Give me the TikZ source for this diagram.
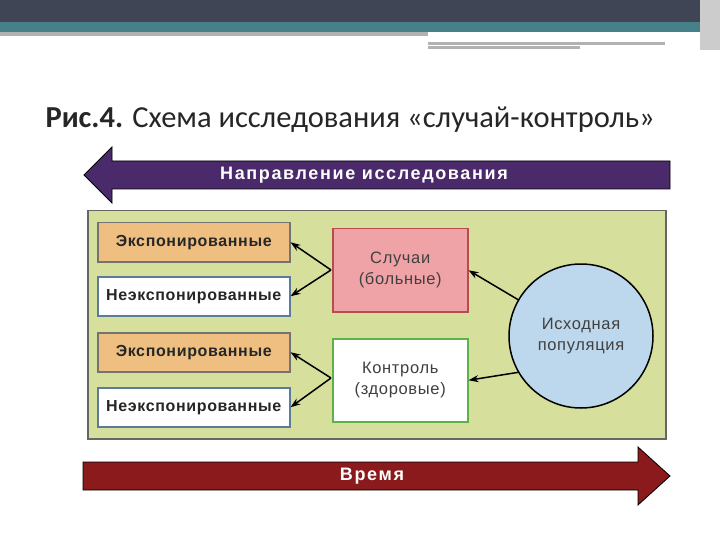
\documentclass[tikz,border=0pt]{standalone}
\usepackage{fontspec}
\setmainfont{Liberation Sans}
\newfontfamily\titlefont{Carlito}
\newfontfamily\widefont[LetterSpace=9]{Liberation Sans}
\newfontfamily\midfont[LetterSpace=4]{Liberation Sans}
\usetikzlibrary{arrows.meta}
\definecolor{topdark}{HTML}{3F4555}
\definecolor{teal}{HTML}{468088}
\definecolor{panel}{HTML}{D6DF9C}
\definecolor{expo}{HTML}{EFBF82}
\definecolor{case}{HTML}{F0A3A6}
\definecolor{circ}{HTML}{BDD7EC}
\definecolor{purp}{HTML}{4A2A6A}
\definecolor{wine}{HTML}{8B1A1C}
\definecolor{blueb}{HTML}{5A7B9A}
\definecolor{greenb}{HTML}{5EB048}
\begin{document}
\begin{tikzpicture}[x=1pt,y=-1pt,
  lbox/.style={draw=#1,line width=1.5pt,minimum width=192pt,minimum height=39pt,anchor=north west,inner sep=0pt,font=\midfont\bfseries\fontsize{16}{18}\selectfont,text=black!85},
  cbox/.style={draw=#1,line width=1.5pt,minimum width=135pt,minimum height=83pt,anchor=north west,align=center,font=\midfont\fontsize{16.5}{21}\selectfont,text=black!75},
  arr/.style={-{Stealth[length=10pt,width=7pt]},line width=1.5pt},
  band/.style={text=white,font=\widefont\bfseries\fontsize{18}{20}\selectfont}]
\useasboundingbox (0,0) rectangle (720,540);
\fill[white] (0,0) rectangle (720,540);
\fill[topdark] (0,0) rectangle (720,22);
\fill[teal] (0,22) rectangle (710,32);
\fill[black!30] (0,32) rectangle (428,36);
\fill[black!30] (428,42) rectangle (665,45);
\fill[black!30] (428,46) rectangle (580,49);
\fill[black!20] (700,0) rectangle (720,50);
\node[anchor=west,font=\titlefont\fontsize{30.5}{33}\selectfont,text=black!85] (title) at (42,120) {\textbf{Рис.4.} Схема исследования «случай-контроль»};
% top arrow
\fill[purp,draw=black,line width=0.8pt] (670,161) -- (112,161) -- (112,147) -- (84,175) -- (112,203) -- (112,189) -- (670,189) -- cycle;
\node[band] (dir) at (364,175) {Направление исследования};
% panel
\node[draw=black!60,line width=1.5pt,fill=panel,minimum width=578pt,minimum height=228pt,anchor=north west,inner sep=0pt] (panel) at (87,210) {};
\node[lbox=black!55,fill=expo] (e1) at (97,222) {Экспонированные};
\node[lbox=blueb,fill=white] (n1) at (97,276) {Неэкспонированные};
\node[lbox=black!55,fill=expo] (e2) at (97,332) {Экспонированные};
\node[lbox=blueb,fill=white] (n2) at (97,387) {Неэкспонированные};
\node[cbox=red!60!black!70,fill=case] (cs) at (332,228) {Случаи\\(больные)};
\node[cbox=greenb,fill=white] (ct) at (332,338) {Контроль\\(здоровые)};
\node[circle,draw=black,line width=1.5pt,fill=circ,minimum size=144pt,align=center,font=\midfont\fontsize{16.5}{21}\selectfont,text=black!75] (pop) at (581,336) {Исходная\\популяция};
\coordinate (j1) at (331,270);
\coordinate (j2) at (331,378);
\draw[arr] (j1) -- (e1.east);
\draw[arr] (j1) -- (n1.east);
\draw[arr] (j2) -- (e2.east);
\draw[arr] (j2) -- (n2.east);
\draw[arr] (pop.150) -- (cs.east);
\draw[arr] (pop.210) -- (ct.east);
% bottom arrow
\fill[wine,draw=black,line width=0.8pt] (83,462) -- (638,462) -- (638,447) -- (670,476) -- (638,505) -- (638,490) -- (83,490) -- cycle;
\node[band] (time) at (372,476) {Время};
\end{tikzpicture}
\end{document}
